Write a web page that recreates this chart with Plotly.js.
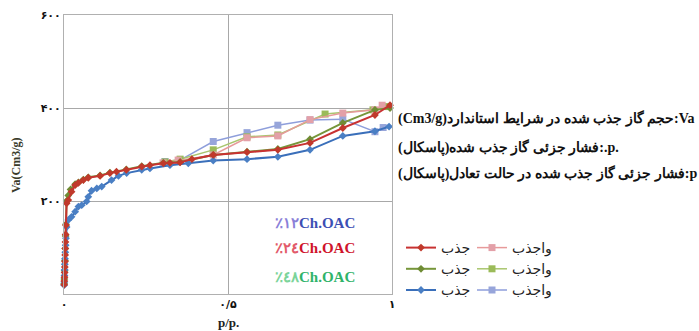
<!DOCTYPE html>
<html>
<head>
<meta charset="utf-8">
<script src="https://cdn.plot.ly/plotly-3.0.1.min.js"></script>
<style>html,body{margin:0;padding:0;background:#fff;}#chart{width:699px;height:331px;}</style>
</head>
<body>
<div id="chart"></div>
<script>
// ---- data ----
var redAdsX = [0.0005,0.001,0.0015,0.002,0.0025,0.003,0.0035,0.004,0.0045,0.005,0.006,0.008,0.013,0.023,0.034,0.044,0.059,0.074,0.11,0.14,0.16,0.19,0.237,0.262,0.303,0.323,0.354,0.39,0.455,0.558,0.652,0.75,0.85,0.948,0.994];
var redAdsY = [20,28,36,46,58,70,84,98,112,128,148,195,202,220,234,239,245,250,254,260,263,267,274,277,281,282,283,290,299,305,310,325,357,385,406];

var greenAdsX = [0.0005,0.001,0.002,0.003,0.004,0.005,0.006,0.008,0.013,0.02,0.034,0.044,0.059,0.074,0.11,0.14,0.19,0.237,0.303,0.354,0.455,0.558,0.652,0.75,0.85,0.948,0.994];
var greenAdsY = [22,32,50,72,98,125,150,200,212,225,236,240,246,251,255,261,268,275,282,284,299,306,312,333,368,396,400];

var blueAdsX = [0.0005,0.001,0.0015,0.002,0.0025,0.003,0.004,0.005,0.006,0.008,0.013,0.023,0.034,0.044,0.054,0.069,0.074,0.084,0.1,0.115,0.145,0.166,0.191,0.237,0.262,0.323,0.379,0.455,0.558,0.652,0.75,0.85,0.948,0.991];
var blueAdsY = [19,26,40,52,64,76,90,105,120,144,159,166,177,188,191,199,209,222,227,231,245,254,260,267,270,277,281,287,290,295,310,340,350,360];

var pinkDesX = [0.97,0.948,0.85,0.75,0.652,0.558,0.455,0.348,0.302];
var pinkDesY = [406,396,389,375,340,336,299,288,282];

var greenDesX = [0.988,0.942,0.796,0.652,0.558,0.455,0.354,0.308];
var greenDesY = [403,396,387,342,338,310,290,284];

var lavDesX = [0.973,0.948,0.85,0.75,0.652,0.558,0.455,0.354,0.308];
var lavDesY = [358,349,376,374,363,347,328,288,285];

var adsName = 'جذب';
var desName = 'واجذب';

var xTickVals = [0, 0.5, 1];
var xTickText = ['۰', '۰/۵', '۱'];
var yTickVals = [0, 200, 400, 600];
var yTickText = ['', '۲۰۰', '۴۰۰', '۶۰۰'];

var sampleLabels = ['Ch.OAC', 'Ch.OAC', 'Ch.OAC'];
var samplePercents = ['٪۱۲', '٪۲٤', '٪٤٨'];

var line1Words = ['حجم','گاز','جذب','شده','در','شرایط','استاندارد'];
var line2Words = ['فشار','جزئی','گاز','جذب','شده'];
var line3Words = ['فشار','جزئی','گاز','جذب','شده','در','حالت','تعادل'];
var unitWord = '(پاسکال)';

function tr(x, y, name, color, mColor, symbol, size, width, legend, rank){
  return {
    x: x, y: y, name: name, type: 'scatter', mode: 'lines+markers',
    line: {color: color, width: width},
    marker: {color: mColor, symbol: symbol, size: size},
    legend: legend, legendrank: rank, cliponaxis: false
  };
}

var data = [
  tr(lavDesX, lavDesY, desName, '#8e9edb', '#97a5da', 'square', 7, 1.5, 'legend2', 3),
  tr(greenDesX, greenDesY, desName, '#a9c66e', '#9bbb59', 'square', 7, 1.5, 'legend2', 2),
  tr(pinkDesX, pinkDesY, desName, '#e79a9a', '#e3a0a8', 'square', 7, 1.5, 'legend2', 1),
  tr(greenAdsX, greenAdsY, adsName, '#76963a', '#6f8c34', 'diamond', 6, 2, 'legend', 2),
  tr(blueAdsX, blueAdsY, adsName, '#3a6fba', '#4a7fc4', 'diamond', 6, 2, 'legend', 3),
  tr(redAdsX, redAdsY, adsName, '#c83232', '#c0392b', 'diamond', 6, 2, 'legend', 1)
];

var plotL = 64, plotR = 392, plotT = 15, plotB = 294;
function px2x(px){ return (px - plotL) / (plotR - plotL); }
function py2y(py){ return (plotB - py) / (plotB - plotT); }

var boldFont = {family: 'Liberation Serif, DejaVu Serif, serif', size: 14, color: '#111', weight: 'bold'};

var annotations = [
  {text: 'Va(Cm3/g)', xref: 'paper', yref: 'paper', x: px2x(16), y: py2y(165), textangle: -90,
   xanchor: 'center', yanchor: 'middle',
   showarrow: false, font: {family: 'Liberation Serif, serif', size: 12, color: '#3a3a2a', weight: 'bold'}},
  {text: 'p/p.', xref: 'paper', yref: 'paper', x: 0.5, y: py2y(322), xanchor: 'center', yanchor: 'middle',
   showarrow: false, font: {family: 'Liberation Serif, serif', size: 13, color: '#222', weight: 'bold'}},
  {text: '(Cm3/g)' + line1Words.join(' ') + ':Va', xref: 'paper', yref: 'paper',
   x: px2x(396), y: py2y(118), xanchor: 'left', yanchor: 'middle', showarrow: false, font: boldFont},
  {text: line2Words.join(' ') + unitWord + ':.p.', xref: 'paper', yref: 'paper',
   x: px2x(396), y: py2y(147), xanchor: 'left', yanchor: 'middle', showarrow: false, font: boldFont},
  {text: line3Words.join(' ') + unitWord + ':p', xref: 'paper', yref: 'paper',
   x: px2x(396), y: py2y(174), xanchor: 'left', yanchor: 'middle', showarrow: false, font: boldFont}
];

var sampleColors = [['#8a80d8', '#3c4fb4'], ['#e25a6a', '#d0142c'], ['#7cd49a', '#2fb36a']];
var sampleY = [223, 248, 277];
for (var i = 0; i < sampleLabels.length; i++) {
  annotations.push({
    text: '<span style="color:' + sampleColors[i][0] + '">' + samplePercents[i] + '</span>' + sampleLabels[i],
    xref: 'paper', yref: 'paper', x: px2x(357), y: py2y(sampleY[i]), xanchor: 'right', yanchor: 'middle',
    showarrow: false,
    font: {family: 'Liberation Serif, DejaVu Serif, serif', size: 15, color: sampleColors[i][1], weight: 'bold'}
  });
}

var legendCommon = {
  orientation: 'v', xanchor: 'left', yanchor: 'top', bgcolor: 'rgba(0,0,0,0)', borderwidth: 0,
  font: {family: 'DejaVu Sans, sans-serif', size: 14, color: '#222'}, itemwidth: 30, traceorder: 'normal'
};

var layout = {
  width: 699, height: 331,
  margin: {l: plotL, r: 699 - plotR, t: plotT, b: 331 - plotB, pad: 0},
  paper_bgcolor: '#ffffff', plot_bgcolor: '#ffffff',
  hovermode: false,
  showlegend: true,
  xaxis: {
    range: [0, 1], tickmode: 'array', tickvals: xTickVals, ticktext: xTickText,
    showgrid: true, gridcolor: '#a8a8a8', gridwidth: 1, zeroline: false,
    showline: true, linecolor: '#b0b0b0', linewidth: 1, mirror: true, ticks: '',
    tickfont: {family: 'DejaVu Sans, sans-serif', size: 11, color: '#111', weight: 'bold'}
  },
  yaxis: {
    range: [0, 600], tickmode: 'array', tickvals: yTickVals, ticktext: yTickText,
    showgrid: true, gridcolor: '#a8a8a8', gridwidth: 1, zeroline: false,
    showline: true, linecolor: '#b0b0b0', linewidth: 1, mirror: true, ticks: '',
    tickfont: {family: 'DejaVu Sans, sans-serif', size: 11, color: '#111', weight: 'bold'}
  },
  legend: Object.assign({}, legendCommon, {x: px2x(401), y: py2y(232)}),
  legend2: Object.assign({}, legendCommon, {x: px2x(472), y: py2y(232)}),
  annotations: annotations
};

Plotly.newPlot('chart', data, layout, {displayModeBar: false, staticPlot: true});
</script>
</body>
</html>
